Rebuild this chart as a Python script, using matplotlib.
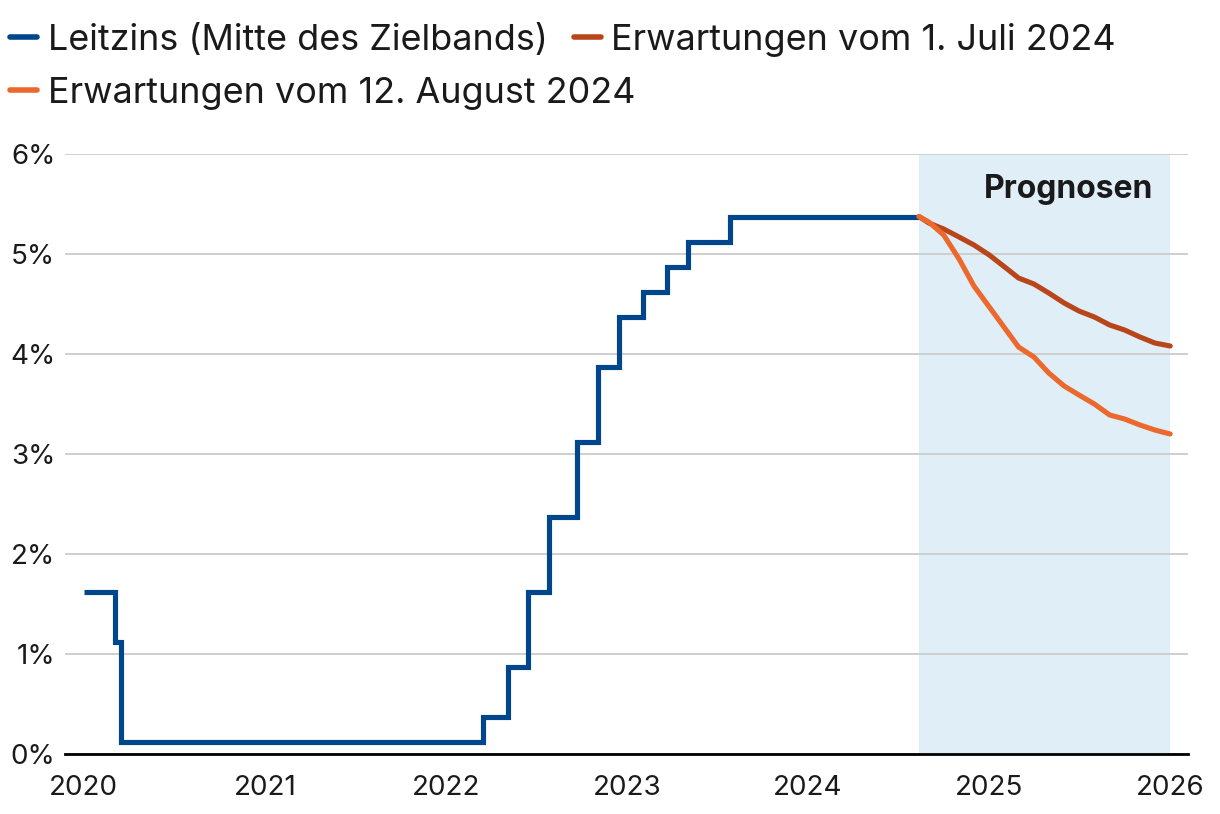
import matplotlib
matplotlib.use("Agg")
import matplotlib.pyplot as plt
from matplotlib.lines import Line2D
from datetime import date

plt.rcParams['font.family'] = ['Inter', 'DejaVu Sans']

# Leitzins (Mitte des Zielbands) – step data
rate_dates = [date(2020, 1, 1), date(2020, 3, 3), date(2020, 3, 16), date(2022, 3, 17),
              date(2022, 5, 5), date(2022, 6, 16), date(2022, 7, 28), date(2022, 9, 22),
              date(2022, 11, 3), date(2022, 12, 15), date(2023, 2, 2), date(2023, 3, 23),
              date(2023, 5, 4), date(2023, 7, 27), date(2024, 8, 12)]
rate_values = [1.625, 1.125, 0.125, 0.375, 0.875, 1.625, 2.375, 3.125, 3.875,
               4.375, 4.625, 4.875, 5.125, 5.375, 5.375]

# Forecast dates
fc_dates = [date(2024, 8, 12), date(2024, 9, 1), date(2024, 10, 1), date(2024, 11, 1),
            date(2024, 12, 1), date(2025, 1, 1), date(2025, 2, 1), date(2025, 3, 1),
            date(2025, 4, 1), date(2025, 5, 1), date(2025, 6, 1), date(2025, 7, 1),
            date(2025, 8, 1), date(2025, 9, 1), date(2025, 10, 1), date(2025, 11, 1),
            date(2025, 12, 1), date(2026, 1, 1)]
fc_july = [5.375, 5.31, 5.25, 5.17, 5.09, 4.99, 4.87, 4.76, 4.70, 4.61, 4.51, 4.43,
           4.37, 4.29, 4.24, 4.17, 4.11, 4.08]
fc_august = [5.375, 5.32, 5.19, 4.95, 4.68, 4.47, 4.26, 4.07, 3.97, 3.81, 3.68, 3.59,
             3.50, 3.39, 3.35, 3.29, 3.24, 3.20]

labels = ["Leitzins (Mitte des Zielbands)", "Erwartungen vom 1. Juli 2024",
          "Erwartungen vom 12. August 2024"]
year_ticks = [2020, 2021, 2022, 2023, 2024, 2025, 2026]
pct_ticks = [0, 1, 2, 3, 4, 5, 6]
forecast_start = date(2024, 8, 12)
forecast_end = date(2026, 1, 1)

C_BLUE = "#00468c"
C_DARK = "#b9461a"
C_ORANGE = "#eb692d"
C_SHADE = "#e0eef8"
C_GRID = "#cccccc"
C_TEXT = "#1a1a1a"

fig = plt.figure(figsize=(12.2, 8.14), dpi=100)
ax = fig.add_axes([0.0533, 0.0737, 0.9205, 0.7371])

ax.axvspan(forecast_start, forecast_end, color=C_SHADE, zorder=0, lw=0)

lw = 3.7
ax.step(rate_dates, rate_values, where='post', color=C_BLUE, lw=lw, zorder=3,
        solid_joinstyle='miter', solid_capstyle='butt')
ax.plot(fc_dates, fc_july, color=C_DARK, lw=lw, zorder=4, solid_capstyle='round')
ax.plot(fc_dates, fc_august, color=C_ORANGE, lw=lw, zorder=4, solid_capstyle='round')

ax.set_ylim(0, 6)
ax.set_xlim(date(2019, 11, 24), date(2026, 2, 6))
ax.set_yticks(pct_ticks)
ax.set_yticklabels([f"{v}%" for v in pct_ticks])
ax.set_xticks([date(y, 1, 1) for y in year_ticks])
ax.set_xticklabels([str(y) for y in year_ticks])
ax.tick_params(axis='both', length=0, labelsize=20, colors=C_TEXT)
ax.tick_params(axis='y', pad=7)
ax.tick_params(axis='x', pad=15)
ax.grid(axis='y', color=C_GRID, lw=1.3, zorder=1)
ax.set_axisbelow(True)
for s in ['top', 'right', 'left']:
    ax.spines[s].set_visible(False)
ax.spines['bottom'].set_color('black')
ax.spines['bottom'].set_linewidth(2)
ax.spines['bottom'].set_zorder(5)

ax.text(date(2025, 11, 27), 5.557, "Prognosen", fontsize=23, fontweight='bold',
        ha='right', va='baseline', color=C_TEXT, zorder=6)

def handle(c):
    return Line2D([], [], color=c, lw=4, solid_capstyle='round')

leg_kw = dict(loc='upper left', frameon=False, fontsize=25.9, handlelength=0.75,
              handletextpad=0.3, columnspacing=0.73, borderaxespad=0.0, borderpad=0.0)
leg1 = fig.legend([handle(C_BLUE), handle(C_DARK)], labels[:2], ncol=2,
                  bbox_to_anchor=(0.008, 0.972), **leg_kw)
for t in leg1.get_texts():
    t.set_color(C_TEXT)
leg2 = fig.legend([handle(C_ORANGE)], labels[2:],
                  bbox_to_anchor=(0.008, 0.906), **leg_kw)
for t in leg2.get_texts():
    t.set_color(C_TEXT)

fig.savefig("out.png", dpi=100)
